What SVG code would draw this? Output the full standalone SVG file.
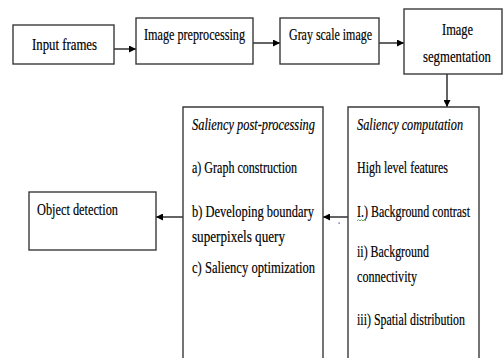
<svg xmlns="http://www.w3.org/2000/svg" width="504" height="358" viewBox="0 0 504 358">
<defs>
<marker id="ah" viewBox="0 0 8 8" refX="8" refY="4" markerWidth="7" markerHeight="7" markerUnits="userSpaceOnUse" orient="auto">
<path d="M0,0 L8,4 L0,8 Z" fill="#000"/>
</marker>
<style>
.box{fill:#fff;stroke:#3a3a3a;stroke-width:1.4}
.t{font-family:"Liberation Serif","Times New Roman",serif;font-size:16.5px;fill:#000;stroke:#000;stroke-width:0.18}
.i{font-style:italic}
.c{fill:none;stroke:#222;stroke-width:1.4;marker-end:url(#ah)}
</style>
</defs>
<rect width="504" height="358" fill="#fff"/>
<g id="connectors">
<line class="c" x1="114" y1="49" x2="136" y2="49"/>
<line class="c" x1="253" y1="43" x2="280" y2="43"/>
<line class="c" x1="379" y1="43" x2="404" y2="43"/>
<line class="c" x1="447" y1="74" x2="447" y2="107"/>
<line class="c" x1="348" y1="217" x2="323" y2="217"/>
<line class="c" x1="183" y1="217" x2="156" y2="217"/>
</g>
<g id="input-frames">
<rect class="box" x="13" y="25" width="101" height="39"/>
<text class="t" transform="translate(32,50) scale(0.77,1)" textLength="84.4" lengthAdjust="spacingAndGlyphs">Input frames</text>
</g>
<g id="image-preprocessing">
<rect class="box" x="136" y="18" width="117" height="46"/>
<text class="t" transform="translate(144,40) scale(0.77,1)" textLength="131.2" lengthAdjust="spacingAndGlyphs">Image preprocessing</text>
</g>
<g id="gray-scale-image">
<rect class="box" x="280" y="18" width="99" height="46"/>
<text class="t" transform="translate(289,40) scale(0.77,1)" textLength="107.8" lengthAdjust="spacingAndGlyphs">Gray scale image</text>
</g>
<g id="image-segmentation">
<rect class="box" x="404" y="9" width="98" height="65"/>
<text class="t" transform="translate(442,35) scale(0.77,1)" textLength="40.3" lengthAdjust="spacingAndGlyphs">Image</text>
<text class="t" transform="translate(423,62) scale(0.77,1)" textLength="88.3" lengthAdjust="spacingAndGlyphs">segmentation</text>
</g>
<g id="saliency-computation">
<path class="box" d="M348,360 L348,107 L479,107 L479,360"/>
<text class="t i" transform="translate(357,130) scale(0.77,1)" textLength="137.7" lengthAdjust="spacingAndGlyphs">Saliency computation</text>
<text class="t" transform="translate(357,173) scale(0.77,1)" textLength="118.2" lengthAdjust="spacingAndGlyphs">High level features</text>
<text class="t" transform="translate(357,217) scale(0.77,1)" textLength="146.8" lengthAdjust="spacingAndGlyphs">I.) Background contrast</text>
<path d="M357,221 l1.5,-1.5 l1.5,1.5 l1.5,-1.5 l1.5,1.5 l1.5,-1.5 l1.5,1.5" fill="none" stroke="#3a9a3a" stroke-width="0.8"/>
<text class="t" transform="translate(357,257) scale(0.77,1)" textLength="93.5" lengthAdjust="spacingAndGlyphs">ii) Background</text>
<text class="t" transform="translate(357,282) scale(0.77,1)" textLength="77.9" lengthAdjust="spacingAndGlyphs">connectivity</text>
<text class="t" transform="translate(357,325) scale(0.77,1)" textLength="140.3" lengthAdjust="spacingAndGlyphs">iii) Spatial distribution</text>
</g>
<g id="saliency-post-processing">
<path class="box" d="M183,360 L183,107 L323,107 L323,360"/>
<text class="t i" transform="translate(192,130) scale(0.77,1)" textLength="159.7" lengthAdjust="spacingAndGlyphs">Saliency post-processing</text>
<text class="t" transform="translate(192,173) scale(0.77,1)" textLength="136.4" lengthAdjust="spacingAndGlyphs">a) Graph construction</text>
<text class="t" transform="translate(192,217) scale(0.77,1)" textLength="158.4" lengthAdjust="spacingAndGlyphs">b) Developing boundary</text>
<text class="t" transform="translate(192,242) scale(0.77,1)" textLength="120.8" lengthAdjust="spacingAndGlyphs">superpixels query</text>
<text class="t" transform="translate(192,273) scale(0.77,1)" textLength="159.7" lengthAdjust="spacingAndGlyphs">c) Saliency optimization</text>
</g>
<g id="object-detection">
<rect class="box" x="29" y="192" width="127" height="58"/>
<text class="t" transform="translate(37,215) scale(0.77,1)" textLength="105.2" lengthAdjust="spacingAndGlyphs">Object detection</text>
</g>
<rect x="338.5" y="222.5" width="1.2" height="1.2" fill="#2233cc"/>
</svg>
